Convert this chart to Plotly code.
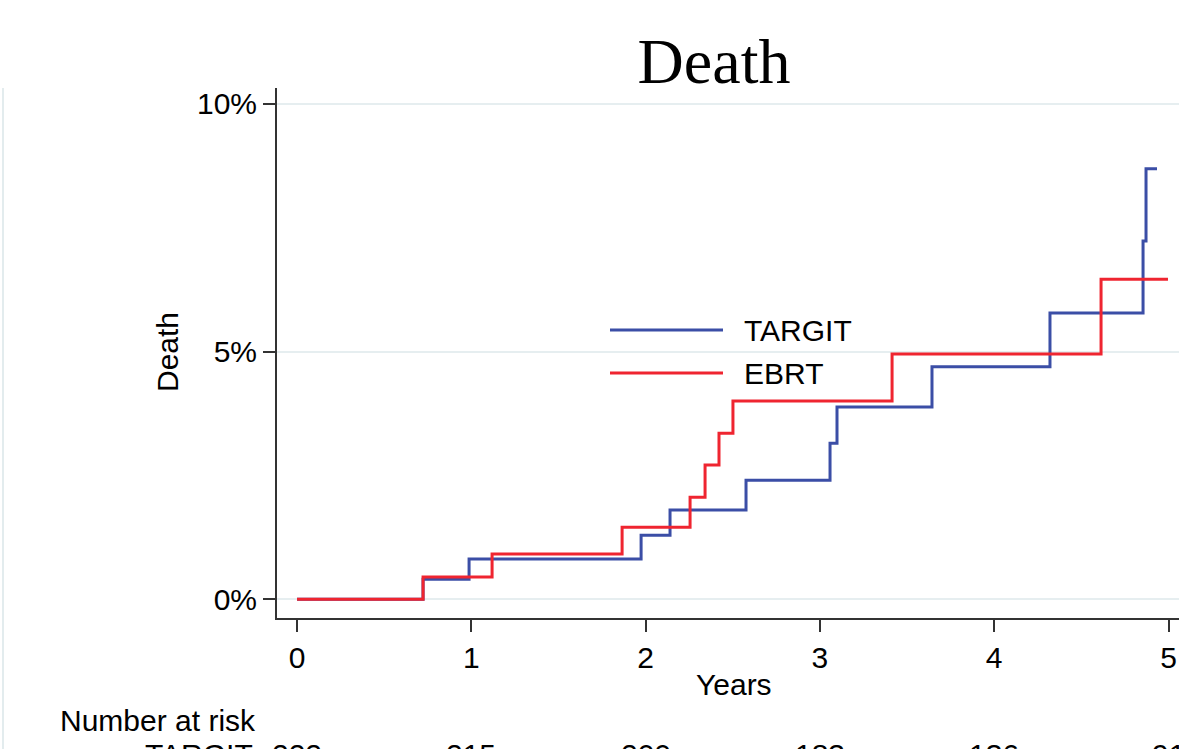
import plotly.graph_objects as go

# Kaplan-Meier style cumulative death (%) step data
targit_years = [0, 0.723, 0.987, 1.974, 2.140, 2.576, 3.058, 3.098, 3.643, 4.320, 4.854, 4.871, 4.934]
targit_pct = [0, 0.40, 0.81, 1.29, 1.80, 2.40, 3.15, 3.88, 4.69, 5.78, 7.23, 8.69, 8.69]

ebrt_years = [0, 0.723, 1.119, 1.865, 2.255, 2.341, 2.421, 2.501, 3.414, 4.613, 4.997]
ebrt_pct = [0, 0.45, 0.91, 1.45, 2.06, 2.71, 3.35, 4.00, 4.95, 6.46, 6.46]

x_ticks = [0, 1, 2, 3, 4, 5]
y_ticks = [0, 5, 10]
y_tick_labels = ["0%", "5%", "10%"]
risk_targit = ["222", "215", "200", "183", "136", "91"]

BLUE = "#3B4EA6"
RED = "#EF2530"
FONT = "Liberation Sans, Arial, sans-serif"
FS = 30

fig = go.Figure()
fig.add_trace(go.Scatter(x=targit_years, y=targit_pct, mode="lines", name="TARGIT",
                         line=dict(color=BLUE, width=3, shape="hv")))
fig.add_trace(go.Scatter(x=ebrt_years, y=ebrt_pct, mode="lines", name="EBRT",
                         line=dict(color=RED, width=3, shape="hv")))

W, H = 1179, 749
L = 277
T = 88
B = H - 618
R = 0
pw = W - L - R
ph = H - T - B

def px_x(p):
    return (p - L) / pw

def px_y(p):
    return (H - B - p) / ph

fig.update_layout(
    width=W, height=H,
    margin=dict(l=L, r=R, t=T, b=B, autoexpand=False),
    plot_bgcolor="white", paper_bgcolor="white",
    showlegend=False,
    font=dict(family=FONT, size=FS, color="black"),
    title=dict(text="Death", xref="container", x=714 / W, xanchor="center",
               yref="container", y=1 - 61 / H, yanchor="middle",
               font=dict(family="Liberation Serif, Times New Roman, serif", size=64, color="black")),
    xaxis=dict(range=[-0.115, (W - 297) / 174.3], tickvals=x_ticks, ticks="outside", ticklen=12,
               tickwidth=2, tickcolor="#333", showline=True, linecolor="#333", linewidth=2,
               showgrid=False, zeroline=False, tickfont=dict(size=FS), automargin=False),
    yaxis=dict(range=[-0.38, 10.32], tickvals=y_ticks, ticktext=y_tick_labels, ticks="outside",
               ticklen=12, tickwidth=2, tickcolor="#333", showline=True, linecolor="#333",
               linewidth=2, showgrid=True, gridcolor="#E6EEF0", gridwidth=2, zeroline=False,
               tickfont=dict(size=FS), automargin=False),
)

# axis titles
fig.add_annotation(text="Death", xref="paper", yref="paper", x=px_x(167), y=px_y(352),
                   xanchor="center", yanchor="middle",
                   textangle=-90, showarrow=False, font=dict(size=FS))
fig.add_annotation(text="Years", xref="paper", yref="paper", x=px_x(734), y=px_y(684),
                   xanchor="center", yanchor="middle", showarrow=False, font=dict(size=FS))

# legend drawn inside the plot
for name, color, ypix in [("TARGIT", BLUE, 330), ("EBRT", RED, 373)]:
    fig.add_shape(type="line", xref="paper", yref="paper", x0=px_x(610), x1=px_x(723),
                  y0=px_y(ypix), y1=px_y(ypix), line=dict(color=color, width=3))
    fig.add_annotation(text=name, xref="paper", yref="paper", x=px_x(742), y=px_y(ypix),
                       xanchor="left", yanchor="middle", showarrow=False, font=dict(size=FS))

# number at risk table (cut off at the bottom)
fig.add_annotation(text="Number at risk", xref="paper", yref="paper", x=px_x(58), y=px_y(720),
                   xanchor="left", yanchor="middle", showarrow=False, font=dict(size=FS))
fig.add_annotation(text="TARGIT", xref="paper", yref="paper", x=px_x(143), y=px_y(736),
                   xanchor="left", yanchor="top", showarrow=False, font=dict(size=FS))
for xv, n in zip(x_ticks, risk_targit):
    fig.add_annotation(text=n, xref="x", yref="paper", x=xv, y=px_y(736),
                       xanchor="center", yanchor="top", showarrow=False, font=dict(size=FS))

# faint outer frame line at the left
fig.add_shape(type="line", xref="paper", yref="paper", x0=px_x(3), x1=px_x(3),
              y0=1, y1=px_y(760), line=dict(color="#E3ECEE", width=2))

fig.write_html("out.html", config={"displayModeBar": False},
               post_script="document.body.style.margin='0';document.body.style.overflow='hidden';")
